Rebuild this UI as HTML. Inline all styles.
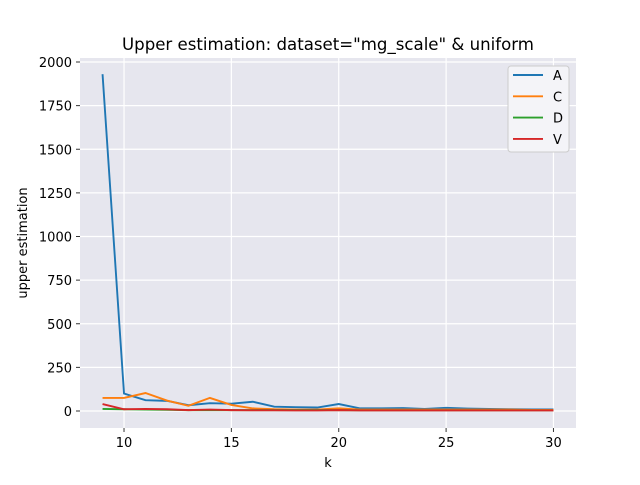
<!DOCTYPE html>
<html><head><meta charset="utf-8"><style>
body{margin:0;background:#fff;font-family:"Liberation Sans","DejaVu Sans",sans-serif}
svg text{font-family:"DejaVu Sans","Liberation Sans",sans-serif}
</style></head><body>
<svg id="chart" width="640" height="480" xmlns="http://www.w3.org/2000/svg">
<rect x="0" y="0" width="640" height="480" fill="#fff"/>
<rect x="80" y="58" width="496" height="370" fill="#e6e6ee"/>
<g id="grid"></g>
<g id="series"></g>
<g id="ticks"></g>
<text x="328" y="50" text-anchor="middle" font-size="16.6">Upper estimation: dataset="mg_scale" &amp; uniform</text>
<text x="328" y="467" text-anchor="middle" font-size="13">k</text>
<text transform="translate(27,243) rotate(-90)" text-anchor="middle" font-size="13">upper estimation</text>
<g>
<rect x="508" y="66" width="61" height="86" rx="3" fill="#f4f4f8" stroke="#ccc" stroke-width="1"/>
</g>
<g id="legend"></g>
</svg>
<script>
const ks=[9,10,11,12,13,14,15,16,17,18,19,20,21,22,23,24,25,26,27,28,29,30];
const seriesA=[1930,100,62,58,33,45,42,53,25,22,20,40,15,15,17,12,18,14,12,10,9,9];
const seriesC=[75,75,103,60,30,75,35,15,10,8,8,15,8,8,8,8,8,8,8,8,6,6];
const seriesD=[12,10,8,7,5,5,5,5,5,5,5,5,4,4,4,4,4,4,4,4,4,4];
const seriesV=[40,10,12,10,5,8,5,4,4,3,3,5,3,3,3,3,3,3,3,3,3,3];
const names=["A","C","D","V"];
const colors=["#1f77b4","#ff7f0e","#2ca02c","#d62728"];
const xTicks=[10,15,20,25,30];
const yTicks=[0,250,500,750,1000,1250,1500,1750,2000];
const ns="http://www.w3.org/2000/svg";
const X=v=>80+(v-7.95)*(496/23.1);
const Y=v=>411-v*0.1745;
function mk(t,a,p){const e=document.createElementNS(ns,t);for(const k in a)e.setAttribute(k,a[k]);(p||document.getElementById('chart')).appendChild(e);return e;}
const grid=document.getElementById('grid'),ticks=document.getElementById('ticks');
xTicks.forEach(v=>{
 const l=mk('line',{x1:X(v),x2:X(v),y1:58,y2:428,stroke:'#fff','stroke-width':1.2},grid);
 
 
 mk('line',{x1:X(v),x2:X(v),y1:428,y2:432,stroke:'#333'},ticks);
 const t=mk('text',{x:X(v),y:447,'text-anchor':'middle','font-size':13},ticks);t.textContent=v;
 
 
});
yTicks.forEach(v=>{
 const l=mk('line',{x1:80,x2:576,y1:Y(v),y2:Y(v),stroke:'#fff','stroke-width':1.2},grid);
 
 
 mk('line',{x1:76,x2:80,y1:Y(v),y2:Y(v),stroke:'#333'},ticks);
 const t=mk('text',{x:72,y:Y(v)+5,'text-anchor':'end','font-size':13},ticks);t.textContent=v;
 
 
});
const all=[seriesA,seriesC,seriesD,seriesV];
const sg=document.getElementById('series'),lg=document.getElementById('legend');
all.forEach((s,i)=>{
 const p=mk('polyline',{points:s.map((v,j)=>X(ks[j])+','+Y(v)).join(' '),fill:'none',stroke:colors[i],'stroke-width':1.9},sg);
 
 
 const y=75+i*21.3;
 const ll=mk('line',{x1:513,x2:543,y1:y,y2:y,stroke:colors[i],'stroke-width':1.9},lg);
 
 
 const t=mk('text',{x:553,y:y+5,'font-size':13},lg);t.textContent=names[i];
 
 
});
</script>
</body></html>
